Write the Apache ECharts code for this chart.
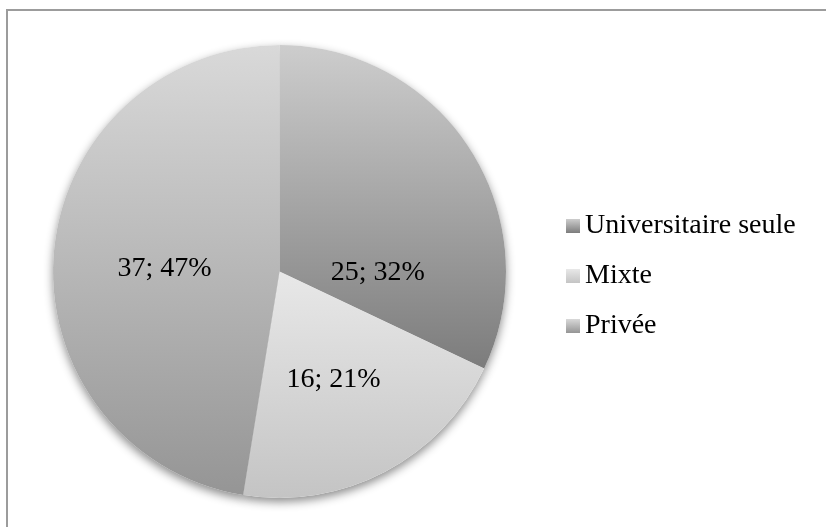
<!DOCTYPE html>
<html>
<head>
<meta charset="utf-8">
<script src="https://cdn.jsdelivr.net/npm/echarts@6/dist/echarts.min.js"></script>
<style>
  html, body { margin: 0; padding: 0; background: #ffffff; }
  #chart { width: 826px; height: 527px; }
</style>
</head>
<body>
<div id="chart"></div>
<script>
// Répartition par type de structure
const categories = ['Universitaire seule', 'Mixte', 'Privée'];
const counts = [25, 16, 37];

// Vertical grey gradients, one per slice (top colour, bottom colour)
const gradientTops = ['#cdcdcd', '#e8e8e8', '#d9d9d9'];
const gradientBottoms = ['#7c7c7c', '#c4c4c4', '#959595'];

const FONT = '"Liberation Serif", "DejaVu Serif", serif';

function grad(i) {
  return new echarts.graphic.LinearGradient(0, 0, 0, 1, [
    { offset: 0, color: gradientTops[i] },
    { offset: 1, color: gradientBottoms[i] }
  ]);
}

// label nudges: the first label sits lower in its slice
const labelOffsets = [[0, 63], [0, 5], [1, 6]];

const slices = categories.map((name, i) => ({
  name: name,
  value: counts[i],
  itemStyle: { color: grad(i) },
  label: { offset: labelOffsets[i] }
}));

const shadowSlices = categories.map((name, i) => ({ name: name, value: counts[i] }));

const center = [279.5, 271.5];
const radius = 226.5;

const chart = echarts.init(document.getElementById('chart'), null, { renderer: 'canvas' });

chart.setOption({
  animation: false,
  backgroundColor: '#ffffff',
  graphic: [{
    type: 'rect',
    shape: { x: 7, y: 10, width: 900, height: 600 },
    style: { fill: 'none', stroke: '#9c9c9c', lineWidth: 2 },
    z: 0
  }],
  legend: {
    orient: 'vertical',
    left: 561,
    top: 207,
    itemWidth: 14,
    itemHeight: 14,
    itemGap: 22,
    icon: 'rect',
    data: categories,
    selectedMode: false,
    textStyle: { fontFamily: FONT, fontSize: 28, color: '#000000', lineHeight: 28 }
  },
  series: [
    {
      type: 'pie',
      name: 'main',
      center: center,
      radius: radius,
      startAngle: 90,
      clockwise: true,
      z: 3,
      silent: true,
      data: slices,
      itemStyle: { borderWidth: 0 },
      label: {
        show: true,
        position: 'inside',
        fontFamily: FONT,
        fontSize: 28,
        color: '#000000',
        formatter: p => p.value + '; ' + Math.round(p.percent) + '%'
      },
      labelLine: { show: false },
      emphasis: { disabled: true }
    },
    {
      // soft drop shadow underneath the pie
      type: 'pie',
      name: 'shadow',
      center: center,
      radius: radius,
      startAngle: 90,
      clockwise: true,
      z: 2,
      silent: true,
      data: shadowSlices,
      itemStyle: {
        color: '#ffffff',
        borderWidth: 0,
        shadowBlur: 10,
        shadowOffsetY: 4,
        shadowColor: 'rgba(0,0,0,0.45)'
      },
      label: { show: false },
      labelLine: { show: false },
      emphasis: { disabled: true }
    }
  ]
});
</script>
</body>
</html>
